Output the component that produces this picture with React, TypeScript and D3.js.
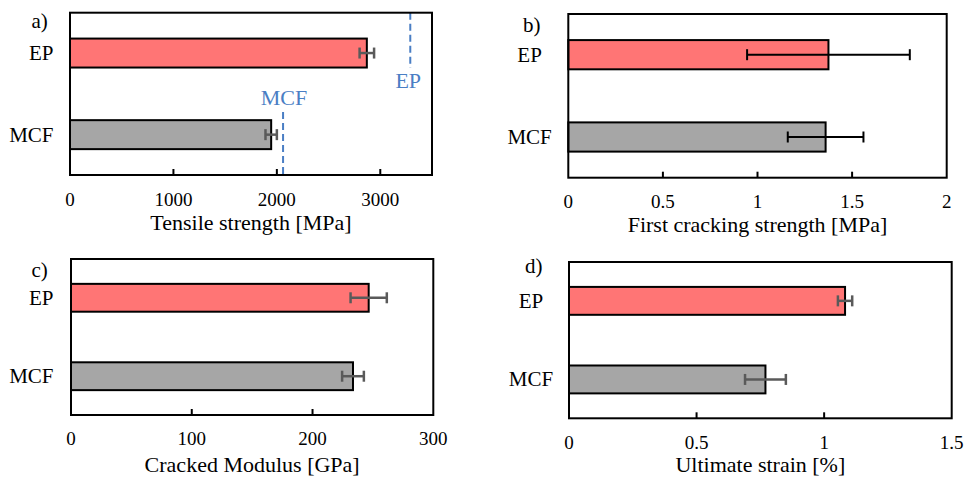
import React from "react";
import * as d3 from "d3";

// ---------- data ----------
const categories = ["EP", "MCF"];

const tensileValues = [2870, 1945];
const tensileErrors = [70, 55];
const tensileTicks = [0, 1000, 2000, 3000];
const tensileRefLabels = ["EP", "MCF"];
const tensileRefValues = [3290, 2060];

const crackingValues = [1.375, 1.36];
const crackingErrors = [0.43, 0.2];
const crackingTicks = [0, 0.5, 1, 1.5, 2];

const modulusValues = [246.5, 233.5];
const modulusErrors = [15, 9];
const modulusTicks = [0, 100, 200, 300];

const strainValues = [1.082, 0.77];
const strainErrors = [0.028, 0.08];
const strainTicks = [0, 0.5, 1, 1.5];

const barColors = ["#ff7575", "#a6a6a6"];
const FONT = "'Liberation Serif', 'Times New Roman', serif";

type PanelProps = {
  letter: string;
  title: string;
  values: number[];
  errors: number[];
  ticks: number[];
  max: number;
  box: { l: number; r: number; t: number; b: number };
  errColor: string;
  errWidth: number;
  catAnchor: "end" | "middle";
  catX: number;
  letterX: number;
  letterY: number;
  tickY: number;
  titleY: number;
  refs?: { label: string; value: number }[];
};

function Panel(p: PanelProps) {
  const x = d3.scaleLinear().domain([0, p.max]).range([p.box.l, p.box.r]);
  const y = d3
    .scaleBand<string>()
    .domain(categories)
    .range([p.box.t, p.box.b])
    .paddingInner(0.645)
    .paddingOuter(0.317);
  const bw = y.bandwidth();
  const fmt = (v: number) => String(v);
  return (
    <g fontFamily={FONT} fill="#000">
      {/* reference dashed lines */}
      {p.refs &&
        p.refs.map((r, i) => {
          const xx = x(r.value);
          const isEP = r.label === "EP";
          const y1 = isEP ? p.box.t : 112;
          const y2 = isEP ? 68 : p.box.b;
          const ty = isEP ? 88 : 105;
          return (
            <g key={"ref" + i}>
              <line
                x1={xx}
                x2={xx}
                y1={y1}
                y2={y2}
                stroke="#4a7ec4"
                strokeWidth={2}
                strokeDasharray="7,4"
              />
              <text
                x={xx + (isEP ? -2 : 1)}
                y={ty}
                textAnchor="middle"
                fontSize={22}
                fill="#4a7ec4"
              >
                {r.label}
              </text>
            </g>
          );
        })}
      {/* bars */}
      {categories.map((c, i) => (
        <rect
          key={c}
          x={x(0)}
          y={y(c)!}
          width={x(p.values[i]) - x(0)}
          height={bw}
          fill={barColors[i]}
          stroke="#000"
          strokeWidth={2}
        />
      ))}
      {/* error bars */}
      {categories.map((c, i) => {
        const cy = y(c)! + bw / 2;
        const x1 = x(p.values[i] - p.errors[i]);
        const x2 = x(p.values[i] + p.errors[i]);
        return (
          <g key={"e" + c} stroke={p.errColor} strokeWidth={p.errWidth}>
            <line x1={x1} x2={x2} y1={cy} y2={cy} />
            <line x1={x1} x2={x1} y1={cy - 5.5} y2={cy + 5.5} />
            <line x1={x2} x2={x2} y1={cy - 5.5} y2={cy + 5.5} />
          </g>
        );
      })}
      {/* frame */}
      <rect
        x={p.box.l}
        y={p.box.t}
        width={p.box.r - p.box.l}
        height={p.box.b - p.box.t}
        fill="none"
        stroke="#000"
        strokeWidth={2}
      />
      {/* inner ticks */}
      {p.ticks
        .filter((t) => t > 0 && t < p.max)
        .map((t) => (
          <line
            key={"t" + t}
            x1={x(t)}
            x2={x(t)}
            y1={p.box.b}
            y2={p.box.b - 6}
            stroke="#000"
            strokeWidth={2}
          />
        ))}
      {/* tick labels */}
      {p.ticks.map((t) => (
        <text key={"tl" + t} x={x(t)} y={p.tickY} textAnchor="middle" fontSize={19}>
          {fmt(t)}
        </text>
      ))}
      {/* axis title */}
      <text x={(p.box.l + p.box.r) / 2} y={p.titleY} textAnchor="middle" fontSize={22}>
        {p.title}
      </text>
      {/* category labels */}
      {categories.map((c) => (
        <text
          key={"c" + c}
          x={p.catX}
          y={y(c)! + bw / 2 + 7}
          textAnchor={p.catAnchor}
          fontSize={21}
        >
          {c}
        </text>
      ))}
      {/* panel letter */}
      <text x={p.letterX} y={p.letterY} fontSize={21}>
        {p.letter}
      </text>
    </g>
  );
}

export default function App() {
  return (
    <svg
      width={966}
      height={477}
      style={{ position: "absolute", left: 0, top: 0, background: "#fff" }}
    >
      <rect width={966} height={477} fill="#fff" />
      <Panel
        letter="a)"
        title="Tensile strength [MPa]"
        values={tensileValues}
        errors={tensileErrors}
        ticks={tensileTicks}
        max={3500}
        box={{ l: 70, r: 432, t: 12.7, b: 175 }}
        errColor="#5a5a5a"
        errWidth={2.5}
        catAnchor="end"
        catX={53.5}
        letterX={31.5}
        letterY={28}
        tickY={206}
        titleY={230}
        refs={tensileRefLabels.map((l, i) => ({ label: l, value: tensileRefValues[i] }))}
      />
      <Panel
        letter="b)"
        title="First cracking strength [MPa]"
        values={crackingValues}
        errors={crackingErrors}
        ticks={crackingTicks}
        max={2}
        box={{ l: 568.3, r: 946.7, t: 14, b: 177.7 }}
        errColor="#000"
        errWidth={2}
        catAnchor="middle"
        catX={529.6}
        letterX={523}
        letterY={32}
        tickY={208}
        titleY={232}
      />
      <Panel
        letter="c)"
        title="Cracked Modulus [GPa]"
        values={modulusValues}
        errors={modulusErrors}
        ticks={modulusTicks}
        max={300}
        box={{ l: 71, r: 433.3, t: 259, b: 415 }}
        errColor="#5a5a5a"
        errWidth={2.5}
        catAnchor="end"
        catX={53.5}
        letterX={31.5}
        letterY={276.5}
        tickY={445}
        titleY={471.5}
      />
      <Panel
        letter="d)"
        title="Ultimate strain [%]"
        values={strainValues}
        errors={strainErrors}
        ticks={strainTicks}
        max={1.5}
        box={{ l: 569, r: 951.7, t: 262, b: 418.3 }}
        errColor="#5a5a5a"
        errWidth={2.5}
        catAnchor="middle"
        catX={531}
        letterX={525}
        letterY={273}
        tickY={448.5}
        titleY={472}
      />
    </svg>
  );
}
